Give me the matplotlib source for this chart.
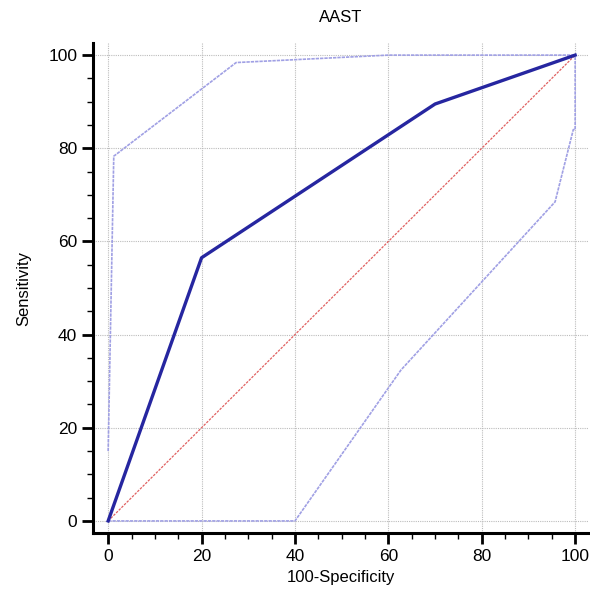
import matplotlib
matplotlib.use('Agg')
import matplotlib.pyplot as plt
from matplotlib.ticker import MultipleLocator

# ROC curve and its confidence bounds (100-Specificity, Sensitivity)
roc_x = [0, 20, 70, 100]
roc_y = [0, 56.5, 89.5, 100]
upper_x = [0, 1.2, 27.4, 60, 100]
upper_y = [15, 78.3, 98.4, 100, 100]
lower_x = [0, 40, 62.7, 95.7, 99.6, 100, 100]
lower_y = [0, 0, 32.4, 68.5, 84, 84, 100]
diag = [0, 100]

plt.rcParams['font.family'] = ['Liberation Sans', 'DejaVu Sans']

fig = plt.figure(figsize=(5.9, 5.89), dpi=100)
ax = fig.add_axes([0.158, 0.095, 0.839, 0.832])

ax.plot(diag, diag, color='#e06060', lw=0.9, ls=(0, (2, 1)))
ax.plot(upper_x, upper_y, color='#a0a0e4', lw=1.2, ls=(0, (2, 0.6)))
ax.plot(lower_x, lower_y, color='#a0a0e4', lw=1.2, ls=(0, (2, 0.6)))
ax.plot(roc_x, roc_y, color='#2626a0', lw=2.4)

ax.set_xlim(-3.2, 102.8)
ax.set_ylim(-2.6, 102.6)
ax.xaxis.set_major_locator(MultipleLocator(20))
ax.yaxis.set_major_locator(MultipleLocator(20))
ax.xaxis.set_minor_locator(MultipleLocator(5))
ax.yaxis.set_minor_locator(MultipleLocator(5))
ax.grid(True, which='major', color='#bcbcbc', ls=(0, (1, 1)), lw=0.8)
ax.set_axisbelow(True)

for s in ['top', 'right']:
    ax.spines[s].set_visible(False)
for s in ['left', 'bottom']:
    ax.spines[s].set_linewidth(2.2)
ax.tick_params(which='major', length=8, width=2, labelsize=12.5)
ax.tick_params(which='minor', length=4, width=1)

ax.set_xlabel('100-Specificity', fontsize=12)
ax.set_ylabel('Sensitivity', fontsize=12, labelpad=12)
ax.set_title('AAST', fontsize=12, pad=15)

fig.savefig('out.png', dpi=100)
